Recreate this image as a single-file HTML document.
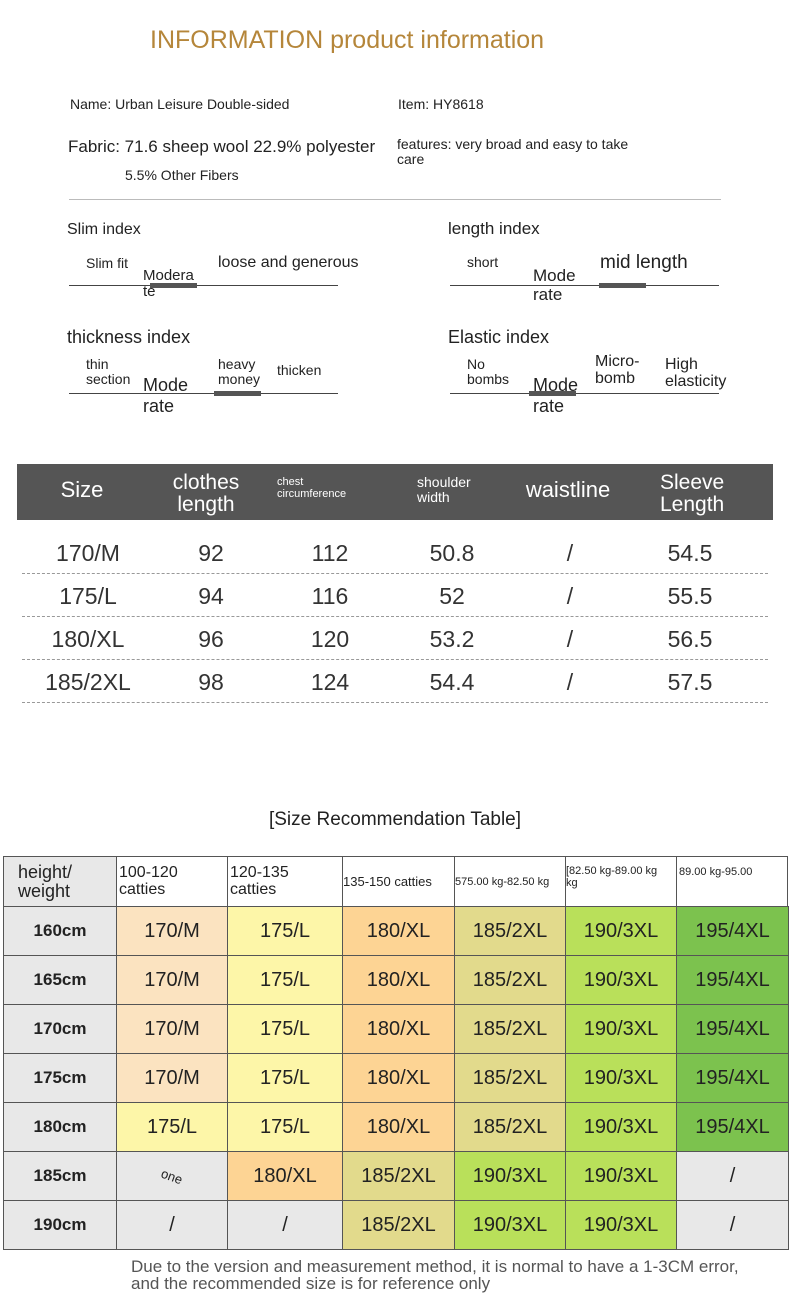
<!DOCTYPE html>
<html><head><meta charset="utf-8"><style>
*{margin:0;padding:0;box-sizing:border-box}
body{width:790px;height:1316px;background:#fff;position:relative;overflow:hidden;font-family:"Liberation Sans Narrow","Liberation Sans",sans-serif;color:#222}
.a{position:absolute;white-space:nowrap;line-height:1}
.ln{position:absolute;height:1px;background:#444}
.bar{position:absolute;height:5px;background:#555}
.h{position:absolute;color:#fff;text-align:center;line-height:1.05}
.c{position:absolute;text-align:center;font-size:23px;color:#333;font-family:"Liberation Sans",sans-serif;width:120px;margin-left:-60px}
.dl{position:absolute;left:22px;width:746px;border-top:1.5px dashed #999}
.cell{position:absolute;border:1px solid #555;display:flex;align-items:center;justify-content:center;font-size:20px;color:#222}
</style></head><body>
<div class="a" style="left:150px;top:28px;font-size:25px;color:#b5863a;font-family:'Liberation Sans',sans-serif">INFORMATION product information</div>
<div class="a" style="left:70px;top:97px;font-size:14px">Name: Urban Leisure Double-sided</div>
<div class="a" style="left:398px;top:97px;font-size:14px">Item: HY8618</div>
<div class="a" style="left:68px;top:138px;font-size:17px">Fabric: 71.6 sheep wool 22.9% polyester</div>
<div class="a" style="left:397px;top:137px;font-size:14px">features: very broad and easy to take</div>
<div class="a" style="left:397px;top:152px;font-size:14px">care</div>
<div class="a" style="left:125px;top:168px;font-size:14px">5.5% Other Fibers</div>
<div class="ln" style="left:69px;top:199px;width:652px;background:#bbb"></div>

<div class="a" style="left:67px;top:222px;font-size:16px">Slim index</div>
<div class="a" style="left:86px;top:256px;font-size:14px">Slim fit</div>
<div class="a" style="left:143px;top:268px;font-size:15px">Modera</div>
<div class="a" style="left:143px;top:284px;font-size:15px">te</div>
<div class="a" style="left:218px;top:255px;font-size:16px">loose and generous</div>
<div class="ln" style="left:69px;top:285px;width:269px"></div>
<div class="bar" style="left:150px;top:283px;width:47px"></div>

<div class="a" style="left:448px;top:220px;font-size:17px">length index</div>
<div class="a" style="left:467px;top:255px;font-size:14px">short</div>
<div class="a" style="left:533px;top:267px;font-size:17px">Mode</div>
<div class="a" style="left:533px;top:286px;font-size:17px">rate</div>
<div class="a" style="left:600px;top:253px;font-size:19px">mid length</div>
<div class="ln" style="left:450px;top:285px;width:269px"></div>
<div class="bar" style="left:599px;top:283px;width:47px"></div>

<div class="a" style="left:67px;top:328px;font-size:18px">thickness index</div>
<div class="a" style="left:86px;top:357px;font-size:14px">thin</div>
<div class="a" style="left:86px;top:372px;font-size:14px">section</div>
<div class="a" style="left:143px;top:376px;font-size:18px">Mode</div>
<div class="a" style="left:143px;top:397px;font-size:18px">rate</div>
<div class="a" style="left:218px;top:357px;font-size:14px">heavy</div>
<div class="a" style="left:218px;top:372px;font-size:14px">money</div>
<div class="a" style="left:277px;top:363px;font-size:14px">thicken</div>
<div class="ln" style="left:69px;top:393px;width:269px"></div>
<div class="bar" style="left:214px;top:391px;width:47px"></div>

<div class="a" style="left:448px;top:328px;font-size:18px">Elastic index</div>
<div class="a" style="left:467px;top:357px;font-size:14px">No</div>
<div class="a" style="left:467px;top:372px;font-size:14px">bombs</div>
<div class="a" style="left:533px;top:376px;font-size:18px">Mode</div>
<div class="a" style="left:533px;top:397px;font-size:18px">rate</div>
<div class="a" style="left:595px;top:354px;font-size:16px">Micro-</div>
<div class="a" style="left:595px;top:371px;font-size:16px">bomb</div>
<div class="a" style="left:665px;top:357px;font-size:16px">High</div>
<div class="a" style="left:665px;top:374px;font-size:16px">elasticity</div>
<div class="ln" style="left:450px;top:393px;width:269px"></div>
<div class="bar" style="left:529px;top:391px;width:47px"></div>

<div style="position:absolute;left:17px;top:464px;width:756px;height:56px;background:#555"></div>
<div class="h" style="left:42px;top:478px;width:80px;font-size:22px">Size</div>
<div class="h" style="left:151px;top:472px;width:110px;font-size:21px">clothes<br>length</div>
<div class="h" style="left:277px;top:477px;font-size:11px;text-align:left">chest<br>circumference</div>
<div class="h" style="left:417px;top:475px;font-size:14px;text-align:left">shoulder<br>width</div>
<div class="h" style="left:508px;top:478px;width:120px;font-size:22px">waistline</div>
<div class="h" style="left:660px;top:472px;width:100px;font-size:21px;text-align:left">Sleeve<br>Length</div>

<div class="c" style="left:88px;top:540px">170/M</div><div class="c" style="left:211px;top:540px">92</div><div class="c" style="left:330px;top:540px">112</div><div class="c" style="left:452px;top:540px">50.8</div><div class="c" style="left:570px;top:540px">/</div><div class="c" style="left:690px;top:540px">54.5</div>
<div class="dl" style="top:573px"></div>
<div class="c" style="left:88px;top:583px">175/L</div><div class="c" style="left:211px;top:583px">94</div><div class="c" style="left:330px;top:583px">116</div><div class="c" style="left:452px;top:583px">52</div><div class="c" style="left:570px;top:583px">/</div><div class="c" style="left:690px;top:583px">55.5</div>
<div class="dl" style="top:616px"></div>
<div class="c" style="left:88px;top:626px">180/XL</div><div class="c" style="left:211px;top:626px">96</div><div class="c" style="left:330px;top:626px">120</div><div class="c" style="left:452px;top:626px">53.2</div><div class="c" style="left:570px;top:626px">/</div><div class="c" style="left:690px;top:626px">56.5</div>
<div class="dl" style="top:659px"></div>
<div class="c" style="left:88px;top:669px">185/2XL</div><div class="c" style="left:211px;top:669px">98</div><div class="c" style="left:330px;top:669px">124</div><div class="c" style="left:452px;top:669px">54.4</div><div class="c" style="left:570px;top:669px">/</div><div class="c" style="left:690px;top:669px">57.5</div>
<div class="dl" style="top:702px"></div>

<div class="a" style="left:0;width:790px;text-align:center;top:810px;font-size:19px;font-family:'Liberation Sans',sans-serif">[Size Recommendation Table]</div>

<div style="position:absolute;left:3px;top:856px;width:785px;height:393px;border:2px solid #555;background:#e8e8e8"></div>
<div class="cell" style="left:3px;top:856px;width:114px;height:51px;justify-content:flex-start;padding-left:14px;font-size:18px;line-height:1.05;background:#e8e8e8">height/<br>weight</div>
<div class="cell" style="left:116px;top:856px;width:112px;height:51px;justify-content:flex-start;padding-left:2px;font-size:16px;line-height:1.05;background:#fff">100-120<br>catties</div>
<div class="cell" style="left:227px;top:856px;width:116px;height:51px;justify-content:flex-start;padding-left:2px;font-size:16px;line-height:1.05;background:#fff">120-135<br>catties</div>
<div class="cell" style="left:342px;top:856px;width:113px;height:51px;justify-content:flex-start;font-size:13px;background:#fff">135-150 catties</div>
<div class="cell" style="left:454px;top:856px;width:112px;height:51px;justify-content:flex-start;font-size:11px;background:#fff;padding-left:0">575.00 kg-82.50 kg</div>
<div class="cell" style="left:565px;top:856px;width:112px;height:51px;justify-content:flex-start;align-items:flex-start;padding-top:8px;font-size:11px;line-height:1.1;background:#fff">[82.50 kg-89.00 kg<br>kg</div>
<div class="cell" style="left:676px;top:856px;width:112px;height:51px;justify-content:flex-start;align-items:flex-start;padding-top:9px;padding-left:2px;font-size:11px;background:#fff">89.00 kg-95.00</div>
<div id="rows"></div>
<script>
var xs=[3,116,227,342,454,565,676,788],ys=[906,955,1004,1053,1102,1151,1200,1249];
var P='#fbe3c0',Y='#fdf6a8',O='#fdd494',L='#e2da8c',G='#b9e05a',D='#7cc24e',E='#e8e8e8';
var rows=[
['160cm',[P,'170/M'],[Y,'175/L'],[O,'180/XL'],[L,'185/2XL'],[G,'190/3XL'],[D,'195/4XL']],
['165cm',[P,'170/M'],[Y,'175/L'],[O,'180/XL'],[L,'185/2XL'],[G,'190/3XL'],[D,'195/4XL']],
['170cm',[P,'170/M'],[Y,'175/L'],[O,'180/XL'],[L,'185/2XL'],[G,'190/3XL'],[D,'195/4XL']],
['175cm',[P,'170/M'],[Y,'175/L'],[O,'180/XL'],[L,'185/2XL'],[G,'190/3XL'],[D,'195/4XL']],
['180cm',[Y,'175/L'],[Y,'175/L'],[O,'180/XL'],[L,'185/2XL'],[G,'190/3XL'],[D,'195/4XL']],
['185cm',[E,'<span style="font-size:13px;display:inline-block;transform:rotate(20deg)">one</span>'],[O,'180/XL'],[L,'185/2XL'],[G,'190/3XL'],[G,'190/3XL'],[E,'/']],
['190cm',[E,'/'],[E,'/'],[L,'185/2XL'],[G,'190/3XL'],[G,'190/3XL'],[E,'/']]];
var h='';
rows.forEach(function(r,i){
 h+='<div class="cell" style="left:3px;top:'+ys[i]+'px;width:114px;height:'+(ys[i+1]-ys[i]+1)+'px;background:#e8e8e8;font-weight:bold;font-size:17px;font-family:\'Liberation Sans\',sans-serif">'+r[0]+'</div>';
 for(var j=1;j<7;j++){h+='<div class="cell" style="left:'+xs[j]+'px;top:'+ys[i]+'px;width:'+(xs[j+1]-xs[j]+1)+'px;height:'+(ys[i+1]-ys[i]+1)+'px;background:'+r[j][0]+'">'+r[j][1]+'</div>';}
});
document.getElementById('rows').innerHTML=h;
</script>
<div class="a" style="left:131px;top:1258px;font-size:17px;color:#555;line-height:1.0">Due to the version and measurement method, it is normal to have a 1-3CM error,<br>and the recommended size is for reference only</div>
</body></html>
